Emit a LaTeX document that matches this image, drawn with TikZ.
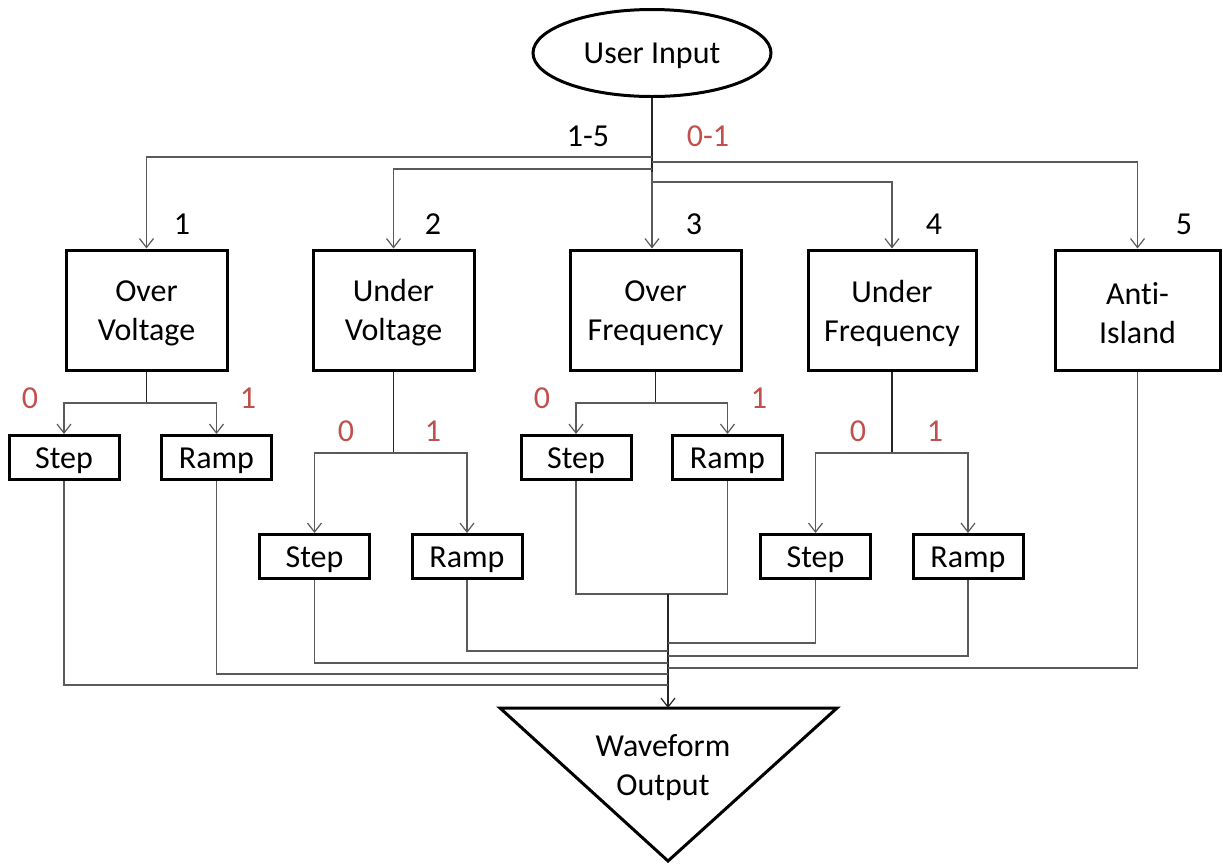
\documentclass[tikz,border=0pt]{standalone}
\usepackage{fontspec}
\setmainfont{Carlito}[Ligatures={NoCommon,NoRequired,NoContextual}]
\usetikzlibrary{arrows.meta,shapes.geometric}
\definecolor{lblred}{HTML}{C0504D}
\definecolor{linegray}{HTML}{5A5A5A}
\begin{document}
\begin{tikzpicture}[x=1pt,y=-1pt,
  font=\fontsize{32}{39}\selectfont,
  mainbox/.style={draw=black,line width=3pt,minimum height=120pt,inner sep=0pt},
  subbox/.style={draw=black,line width=3pt,minimum width=110pt,minimum height=44pt,inner sep=0pt},
  txt/.style={align=center,inner sep=0pt},
  stem/.style={draw=black!85,line width=1.8pt},
  branch/.style={draw=linegray,line width=1.2pt},
  arr/.style={-{Straight Barb[length=9pt,width=14pt,line width=1.2pt]}},
  red/.style={text=lblred},
  lbl/.style={inner sep=0pt}]
\useasboundingbox (0,0) rectangle (1223,863);
% top
\node[ellipse,draw,line width=3pt,minimum width=238pt,minimum height=87pt,inner sep=0pt] (ui) at (652,53) {};
\node[txt] (uit) at (652,56) {User Input};
% main boxes
\node[mainbox,minimum width=161pt] (ov) at (146.5,310) {};
\node[mainbox,minimum width=161pt] (uv) at (393.5,310) {};
\node[mainbox,minimum width=171pt] (of) at (655.5,310) {};
\node[mainbox,minimum width=168pt] (uf) at (892,310) {};
\node[mainbox,minimum width=165pt] (ai) at (1137.5,310) {};
\node[txt] (ovt) at ([yshift=-3pt]ov.center) {Over\\Voltage};
\node[txt] (uvt) at ([yshift=-3pt]uv.center) {Under\\Voltage};
\node[txt] (oft) at ([yshift=-3pt]of.center) {Over\\Frequency};
\node[txt] (uft) at ([yshift=-3pt]uf.center) {Under\\Frequency};
\node[txt] (ait) at ([yshift=-3pt]ai.center) {Anti-\\Island};
% sub boxes
\node[subbox] (ovs) at (64,457.5) {};
\node[subbox] (ovr) at (216.5,457.5) {};
\node[subbox] (uvs) at (314.5,556.5) {};
\node[subbox] (uvr) at (467,556.5) {};
\node[subbox] (ofs) at (576,457.5) {};
\node[subbox] (ofr) at (727.5,457.5) {};
\node[subbox] (ufs) at (815.5,556.5) {};
\node[subbox] (ufr) at (968,556.5) {};
\foreach \b/\t in {ovs/Step,ovr/Ramp,uvs/Step,uvr/Ramp,ofs/Step,ofr/Ramp,ufs/Step,ufr/Ramp}
  \node[txt] (\b t) at ([yshift=-3pt]\b.center) {\t};
% output triangle
\coordinate (tl) at (500,708);
\coordinate (tr) at (837,708);
\coordinate (tb) at (668,861);
\draw[line width=3pt,line join=miter] (tl) -- (tr) -- (tb) -- cycle;
\coordinate (outtop) at (668,708);
\node[txt] (out) at (663,768) {Waveform\\Output};
% labels
\node[lbl] (l15) at (588,136) {1-5};
\node[lbl,red] (l01) at (708,136) {0-1};
\node[lbl] (n1) at (182,224) {1};
\node[lbl] (n2) at (433,224) {2};
\node[lbl] (n3) at (694,224) {3};
\node[lbl] (n4) at (934,224) {4};
\node[lbl] (n5) at (1184,224) {5};
\node[lbl,red] at (30,398) {0};
\node[lbl,red] at (248,398) {1};
\node[lbl,red] at (346,431) {0};
\node[lbl,red] at (433,431) {1};
\node[lbl,red] at (542,398) {0};
\node[lbl,red] at (759,398) {1};
\node[lbl,red] at (858,431) {0};
\node[lbl,red] at (935,431) {1};
% top distribution
\coordinate (hub) at (652,172);
\draw[stem] (ui.south) -- (hub);
\draw[branch,arr] (652,157) -| (ov.north);
\draw[branch,arr] (652,169) -| (uv.north);
\draw[branch,arr] (hub) -- (ui.south |- of.north);
\draw[branch,arr] (652,182) -| (uf.north);
\draw[branch,arr] (652,162) -| (ai.north);
% sub branches
\coordinate (ovj) at (146.5,403);
\draw[stem] (ov.south) -- (ovj);
\draw[branch,arr] (ovj) -| (ovs.north);
\draw[branch,arr] (ovj) -| (ovr.north);
\coordinate (uvj) at (393.5,453);
\draw[stem] (uv.south) -- (uvj);
\draw[branch,arr] (uvj) -| (uvs.north);
\draw[branch,arr] (uvj) -| (uvr.north);
\coordinate (ofj) at (655.5,403);
\draw[stem] (of.south) -- (ofj);
\draw[branch,arr] (ofj) -| (ofs.north);
\draw[branch,arr] (ofj) -| (ofr.north);
\coordinate (ufj) at (892,453);
\draw[stem] (uf.south) -- (ufj);
\draw[branch,arr] (ufj) -| (ufs.north);
\draw[branch,arr] (ufj) -| (ufr.north);
% merge to output
\coordinate (ofm) at (668,594);
\draw[branch] (ofs.south) |- (ofm) -| (ofr.south);
\draw[stem,arr] (ofm) -- (outtop);
\draw[branch] (ovs.south) |- (668,685);
\draw[branch] (ovr.south) |- (668,674);
\draw[branch] (uvs.south) |- (668,663);
\draw[branch] (uvr.south) |- (668,651);
\draw[branch] (ufs.south) |- (668,643);
\draw[branch] (ufr.south) |- (668,656);
\draw[branch] (ai.south) |- (668,668);
\end{tikzpicture}
\end{document}
